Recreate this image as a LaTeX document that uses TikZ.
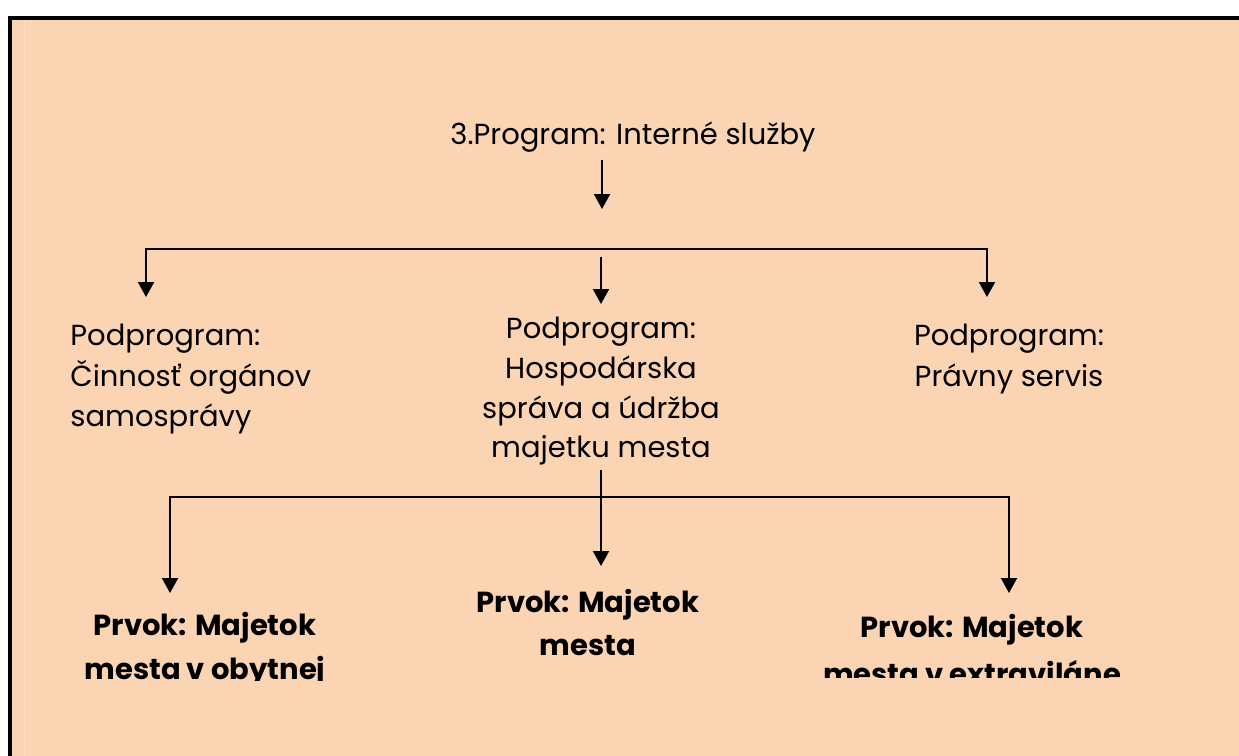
\documentclass[tikz,border=0pt]{standalone}
\usepackage{fontspec}
\setmainfont{Poppins}
\usetikzlibrary{arrows.meta}
\definecolor{tan}{HTML}{FBD4B4}
\definecolor{tanlight}{HTML}{FCDCC3}

\begin{document}
\begin{tikzpicture}[x=0.5pt,y=-0.5pt,
  conn/.style={line width=1pt},
  arr/.style={conn,-{Triangle[width=8pt,length=7.5pt]}},
  twoarr/.style={conn,{Triangle[width=8pt,length=7.5pt]}-{Triangle[width=8pt,length=7.5pt]}},
  plain/.style={inner sep=0pt,anchor=base,font=\fontsize{14.5}{17}\selectfont},
  plainl/.style={plain,anchor=base west},
  heavy/.style={inner sep=0pt,anchor=base,font=\fontsize{14.5}{17}\selectfont\bfseries}]

\useasboundingbox (0,0) rectangle (1239,756);
\clip (0,0) rectangle (1239,756);

% frame and background
\fill[black] (8,16) rectangle (1260,780);
\fill[tan] (12,20) rectangle (1260,780);
\draw[tanlight,line width=0.5pt] (24,20) -- (24,756);

% program
\node[plain] (title) at (633,144) {3.Program: Interné služby};
\coordinate (t0) at (602,160);
\coordinate (t1) at (602,209);
\draw[arr] (t0) -- (t1);

% subprograms
\coordinate (pl) at (146,297);
\coordinate (ql) at (146,249);
\coordinate (qr) at (987,249);
\coordinate (pr) at (987,297);
\draw[twoarr] (pl) -- (ql) -- (qr) -- (pr);
\coordinate (m0) at (601,257);
\coordinate (m1) at (601,304);
\draw[arr] (m0) -- (m1);

\node[plainl] (sl1) at (70,345) {Podprogram:};
\node[plainl] (sl2) at (70,386) {Činnosť orgánov};
\node[plainl] (sl3) at (70,426) {samosprávy};

\node[plain] (sm1) at (601,338) {Podprogram:};
\node[plain] (sm2) at (601,378) {Hospodárska};
\node[plain] (sm3) at (601,418) {správa a údržba};
\node[plain] (sm4) at (601,457) {majetku mesta};

\node[plain] (sr1) at (1009,345) {Podprogram:};
\node[plain] (sr2) at (1009,386) {Právny servis};

% elements
\coordinate (e0) at (601,470);
\coordinate (e1) at (601,566);
\draw[arr] (e0) -- (e1);
\coordinate (el) at (170,593);
\coordinate (fl) at (170,497);
\coordinate (fr) at (1009,497);
\coordinate (er) at (1009,593);
\draw[twoarr] (el) -- (fl) -- (fr) -- (er);

\begin{scope}
  \clip (40,560) rectangle (380,680);
  \node[heavy] (bl1) at (205,635) {Prvok: Majetok};
  \node[heavy] (bl2) at (205,679) {mesta v obytnej};
\end{scope}
\node[heavy] (bm1) at (588,612) {Prvok: Majetok};
\node[heavy] (bm2) at (588,655) {mesta};
\begin{scope}
  \clip (780,560) rectangle (1180,677);
  \node[heavy] (br1) at (972,637) {Prvok: Majetok};
  \node[heavy] (br2) at (972,684) {mesta v extraviláne};
\end{scope}
\end{tikzpicture}
\end{document}
